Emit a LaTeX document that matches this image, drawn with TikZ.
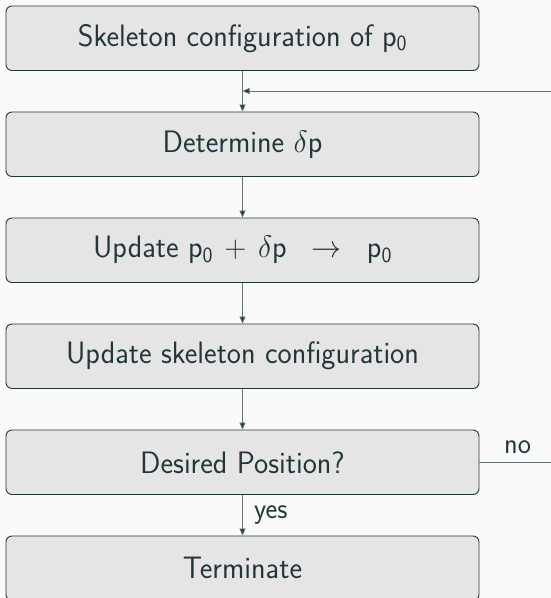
\RequirePackage{fix-cm}
\documentclass[tikz,border=0pt]{standalone}
\usepackage{graphicx}
\usetikzlibrary{arrows.meta}
\definecolor{ink}{HTML}{23373B}
\definecolor{boxfill}{HTML}{E5E5E5}
\definecolor{bg}{HTML}{FAFAFA}
% slightly narrowed set of the sans face used for all labels
\newcommand{\narrowtext}[1]{\scalebox{0.97}[1]{#1}}
\newcommand{\pvar}{\mathsf{p}}
\begin{document}
\begin{tikzpicture}[x=1pt,y=1pt,
  stepbox/.style={draw=ink, line width=0.9pt, fill=boxfill, rounded corners=6pt,
    minimum width=473pt, minimum height=64.5pt, inner sep=0pt, text=ink,
    font=\sffamily\fontsize{31}{37}\selectfont},
  flow/.style={draw=ink!70, line width=0.8pt, -{Triangle[width=6pt,length=7pt,fill=ink]}},
  lbl/.style={text=ink, inner sep=0pt, font=\sffamily\fontsize{29}{33}\selectfont}]
\fill[bg] (0,0) rectangle (551,-598);
\clip (0,0) rectangle (551,-598);
% process steps
\node[stepbox] (s1) at (242.5,-38.25)  {\narrowtext{Skeleton configuration of $\pvar_{\mathsf{0}}$}};
\node[stepbox] (s2) at (242.5,-144.25) {\narrowtext{Determine $\delta\pvar$}};
\node[stepbox] (s3) at (242.5,-250.25) {\narrowtext{Update $\pvar_{\mathsf{0}} \,+\, \delta\pvar\;\;\rightarrow\;\;\pvar_{\mathsf{0}}$}};
\node[stepbox] (s4) at (242.5,-356.25) {\narrowtext{Update skeleton configuration}};
\node[stepbox] (s5) at (242.5,-462.25) {\narrowtext{Desired Position?}};
\node[stepbox] (s6) at (242.5,-568.25) {\narrowtext{Terminate}};
% loop-back junction and the outer return path
\coordinate (join) at (s1.south |- 0,-91);
\coordinate (back) at (620,-462.25);
% connectors
\draw[flow] (s1) -- (s2);
\draw[flow] (s2) -- (s3);
\draw[flow] (s3) -- (s4);
\draw[flow] (s4) -- (s5);
\draw[flow] (s5) -- (s6);
\draw[flow] (s5.east) -- (back) |- (join);
% branch labels
\node[lbl, anchor=base west] (yes) at (254,-518) {\narrowtext{yes}};
\node[lbl, anchor=base west] (no) at (504,-453) {\narrowtext{no}};
\end{tikzpicture}
\end{document}
